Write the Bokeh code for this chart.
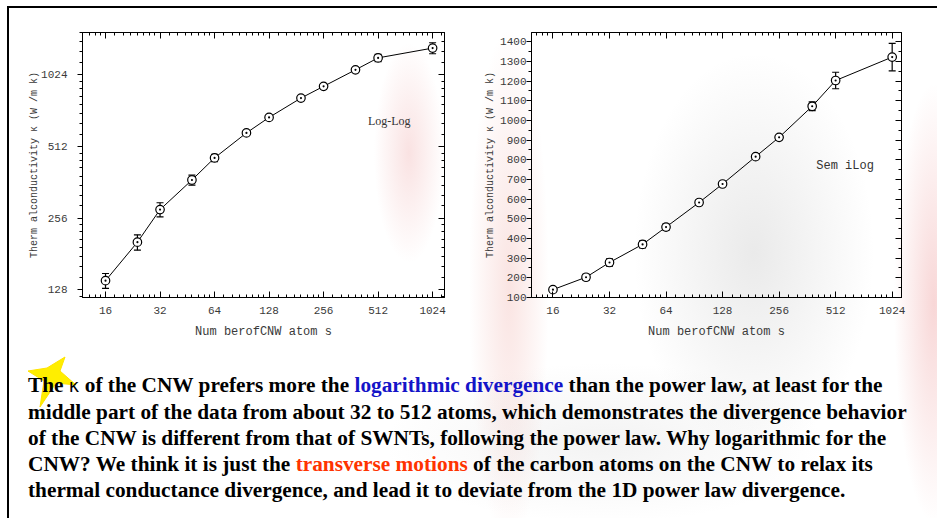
from bokeh.plotting import figure
from bokeh.models import (Range1d, FixedTicker, NumeralTickFormatter, LogAxis, LinearAxis,
                          Whisker, ColumnDataSource, Label, Div, TeeHead)
from bokeh.layouts import column, row
from bokeh.embed import file_html
from bokeh.resources import INLINE

# ---------------- data ----------------
atoms = [16, 24, 32, 48, 64, 96, 128, 192, 256, 384, 512, 1024]
kappa = [140, 203, 278, 370, 458, 583, 677, 816, 914, 1072, 1203, 1322]
kappa_err = [10, 15, 19, 18, 16, 12, 8, 8, 8, 22, 42, 70]
x_ticks = [16, 32, 64, 128, 256, 512, 1024]
y_log_ticks = [128, 256, 512, 1024]
y_lin_ticks = list(range(100, 1401, 100))

x_title = "Num berofCNW atom s"
y_title = "Therm alconductivity \u03ba (W /m k)"

MONO = "Liberation Mono"


def log_minor(majors, n=8):
    full = [majors[0] / 2] + majors + [majors[-1] * 2]
    out = []
    for a, b in zip(full[:-1], full[1:]):
        out += [a + k * (b - a) / n for k in range(1, n)]
    return out


def lin_minor(majors):
    step = majors[1] - majors[0]
    return [m + step / 2 for m in [majors[0] - step] + majors]


src = ColumnDataSource(dict(x=atoms, y=kappa,
                            upper=[k + e for k, e in zip(kappa, kappa_err)],
                            lower=[k - e for k, e in zip(kappa, kappa_err)]))


def style_axis(ax, side, labels=True, tfs="11px"):
    ax.axis_line_color = "black"
    ax.major_tick_line_color = "black"
    ax.minor_tick_line_color = "black"
    if side == "left":
        ax.major_tick_out, ax.major_tick_in = 5, 0
        ax.minor_tick_out, ax.minor_tick_in = 3, 0
    else:
        ax.major_tick_out, ax.major_tick_in = 0, 6
        ax.minor_tick_out, ax.minor_tick_in = 0, 3
    ax.major_label_text_font = MONO
    ax.major_label_text_font_size = tfs
    ax.major_label_text_color = "#3a3a3a"
    ax.axis_label_text_font = MONO
    ax.axis_label_text_font_style = "normal"
    ax.axis_label_text_color = "#3a3a3a"
    if not labels:
        ax.major_label_text_alpha = 0
        ax.major_label_standoff = 0
        ax.major_label_text_font_size = "1px"


def make_plot(ylog, width, height, xr, yr, borders, yticker, label_text, label_pos, label_font, ystand):
    p = figure(width=width, height=height, x_axis_type="log",
               y_axis_type="log" if ylog else "linear",
               x_range=Range1d(*xr), y_range=Range1d(*yr),
               output_backend="svg", toolbar_location=None,
               min_border_left=borders[0], min_border_right=borders[1],
               min_border_top=borders[2], min_border_bottom=borders[3],
               background_fill_alpha=0, border_fill_alpha=0,
               outline_line_color="black")
    p.grid.visible = False
    xt = FixedTicker(ticks=x_ticks, minor_ticks=log_minor(x_ticks))
    xa = p.xaxis[0]
    xa.ticker = xt
    xa.formatter = NumeralTickFormatter(format="0")
    style_axis(xa, "below")
    xa.major_label_standoff = 9
    xa.axis_label = x_title
    xa.axis_label_text_font_size = "12px"
    xa.axis_label_standoff = 8
    ya = p.yaxis[0]
    ya.ticker = yticker
    ya.formatter = NumeralTickFormatter(format="0")
    style_axis(ya, "left")
    ya.major_label_standoff = ystand[0]
    ya.axis_label = y_title
    ya.axis_label_text_font_size = "10px"
    ya.axis_label_standoff = ystand[1]

    AxY = LogAxis if ylog else LinearAxis
    top = LogAxis(ticker=FixedTicker(ticks=x_ticks, minor_ticks=log_minor(x_ticks)))
    style_axis(top, "above", labels=False)
    p.add_layout(top, "above")
    right = AxY(ticker=FixedTicker(ticks=yticker.ticks, minor_ticks=yticker.minor_ticks))
    style_axis(right, "right", labels=False)
    p.add_layout(right, "right")

    w = Whisker(source=src, base="x", upper="upper", lower="lower",
                line_color="black", line_width=1.2, level="underlay",
                upper_head=TeeHead(size=7, line_color="black", line_width=1.2),
                lower_head=TeeHead(size=7, line_color="black", line_width=1.2))
    p.add_layout(w)
    p.line("x", "y", source=src, line_color="black", line_width=1)
    p.scatter("x", "y", source=src, marker="circle_dot", size=8.5,
              fill_color="white", line_color="black", line_width=1.2)
    p.add_layout(Label(x=label_pos[0], y=label_pos[1], text=label_text,
                       text_font=label_font, text_font_size="12px",
                       text_color="#333333", text_baseline="middle"))
    return p


p1 = make_plot(True, 462, 338, (11.94, 1191), (119, 1537), (73, 27, 24, 49),
               FixedTicker(ticks=y_log_ticks, minor_ticks=log_minor(y_log_ticks)),
               "Log-Log", (450, 655), "Liberation Serif", (10, -2))
p2 = make_plot(False, 467, 338, (12.3, 1148), (100, 1447), (60, 37, 24, 46),
               FixedTicker(ticks=y_lin_ticks, minor_ticks=lin_minor(y_lin_ticks)),
               "Sem iLog", (404, 768), MONO, (0, 1))

html = """
<div style="position:relative;width:927px;height:172px;">
<svg style="position:absolute;left:0px;top:0px;" width="120" height="70">
<polygon points="51,6 46,20 62,34 42,32 26,56 30,30 14,20 33,17" fill="#ffee00" stroke="#ffe400" stroke-width="1"/>
</svg>
<div style="position:absolute;left:14px;top:21px;font-family:'Liberation Serif';font-weight:bold;font-size:21.3px;line-height:26px;white-space:nowrap;color:#000;">
The <span style="font-family:'DejaVu Sans';font-weight:normal;font-size:18px;">\u03ba</span> of the CNW prefers more the <span style="color:#1414c8;">logarithmic divergence</span> than the power law, at least for the<br>
middle part of the data from about 32 to 512 atoms, which demonstrates the divergence behavior<br>
of the CNW is different from that of SWNTs, following the power law. Why logarithmic for the<br>
CNW? We think it is just the <span style="color:#ff3300;">transverse motions</span> of the carbon atoms on the CNW to relax its<br>
thermal conductance divergence, and lead it to deviate from the 1D power law divergence.
</div>
</div>
"""
div = Div(text=html, width=927, height=172)

bg = ("radial-gradient(ellipse 35px 110px at 400px 145px, rgba(235,150,150,0.28), rgba(235,150,150,0)),"
      "radial-gradient(ellipse 40px 260px at 500px 280px, rgba(230,120,110,0.20), rgba(230,120,110,0)),"
      "radial-gradient(ellipse 120px 200px at 745px 245px, rgba(150,150,150,0.20), rgba(150,150,150,0)),"
      "radial-gradient(ellipse 40px 220px at 925px 295px, rgba(230,110,110,0.28), rgba(230,110,110,0)),"
      "radial-gradient(ellipse 220px 80px at 595px 435px, rgba(170,170,170,0.14), rgba(170,170,170,0)),"
      "white")

layout = column(row(p1, p2), div,
                styles={"border-left": "2px solid black", "border-top": "2px solid black",
                        "background": bg, "position": "relative", "left": "7px", "top": "6px"})

with open("out.html", "w") as f:
    f.write(file_html(layout, INLINE))
